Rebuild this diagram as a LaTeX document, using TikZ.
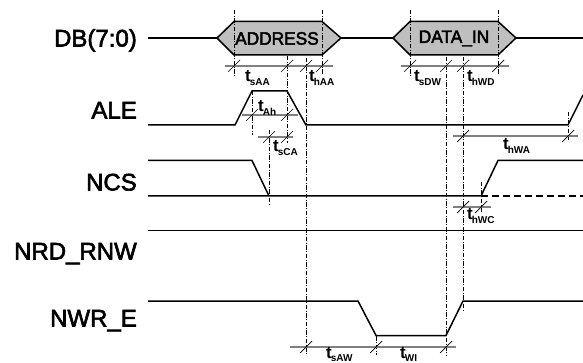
\documentclass[tikz,border=0pt]{standalone}
\usepackage{fontspec}
\setmainfont{Liberation Sans}
\newfontfamily\siglbl[FakeBold=2.5]{Liberation Sans}
\newfontfamily\buslbl[FakeBold=2.5,FakeStretch=0.96]{Liberation Sans}
\newfontfamily\tfont{Liberation Sans Bold}
\newcommand\tsym[1]{{\tfont\fontsize{17}{17}\selectfont t}\kern-1pt\raisebox{-3.2pt}{\tfont\fontsize{10}{10}\selectfont #1}}
\newcommand\tk[2]{\draw[tickmark] (#1-6,#2+6) -- (#1+6,#2-6);}
\tikzset{
  sig/.style={line width=1.5pt, line join=miter},
  guide/.style={line width=0.7pt, dash pattern=on 4.5pt off 1.5pt on 1pt off 1.5pt},
  dim/.style={line width=1.3pt, black!50},
  tickmark/.style={line width=0.7pt},
  bus/.style={sig, fill=black!25},
  siglabel/.style={anchor=base east, inner sep=0pt, font=\siglbl\fontsize{24}{24}\selectfont},
  buslabel/.style={inner sep=0pt, font=\buslbl\fontsize{18}{18}\selectfont},
  tlabel/.style={anchor=base west, inner sep=0pt}
}
\begin{document}
\begin{tikzpicture}[x=1pt,y=-1pt]
\useasboundingbox (0,0) rectangle (583,363);
% signal names
\node[siglabel] (ldb)  at (137,46.5)  {DB(7:0)};
\node[siglabel] (lale) at (137,118.5) {ALE};
\node[siglabel] (lncs) at (137,190.5) {NCS};
\node[siglabel] (lrd)  at (137,259.5) {NRD\_RNW};
\node[siglabel] (lwr)  at (137,326.5) {NWR\_E};
% bus
\draw[sig] (148,38) -- (217,38) (341,38) -- (393,38) (516,38) -- (583,38);
\draw[bus] (217,38) -- (234,21.5) -- (322,21.5) -- (341,38) -- (322,55) -- (234,55) -- cycle;
\draw[bus] (393,38) -- (410,21.5) -- (498,21.5) -- (516,38) -- (498,55) -- (410,55) -- cycle;
% guides
\draw[guide] (234,10) -- (234,78);
\draw[guide] (322,10) -- (322,75);
\draw[guide] (410,10) -- (410,78);
\draw[guide] (498,10) -- (498,75);
\draw[guide] (252,91) -- (252,135);
\draw[guide] (287,56) -- (287,143);
\draw[guide] (306,58) -- (306,355);
\draw[guide] (269,130) -- (269,206);
\draw[guide] (446,57) -- (446,355);
\draw[guide] (463,57) -- (463,312);
\draw[guide] (481,182) -- (481,212);
\draw[guide] (568,112) -- (568,140);
\draw[guide] (376,336) -- (376,355);
\node[buslabel] (baddr) at (277,38.5) {ADDRESS};
\node[buslabel] (bdata) at (454,38.5) {DATA\_IN};
% signals
\draw[sig] (148,125) -- (235,125) -- (252,91) -- (287,91) -- (306,125) -- (568,125) -- (583,95);
\draw[sig] (148,160.5) -- (252,160.5) -- (269,196);
\draw[sig] (148,196) -- (481,196) -- (498,160.5) -- (583,160.5);
\draw[sig, dash pattern=on 7pt off 4pt] (481,196) -- (583,196);
\draw[sig] (148,230.5) -- (583,230.5);
\draw[sig] (148,301) -- (358,301) -- (376,335.5) -- (446,335.5) -- (463,301) -- (583,301);
% dimension lines
\draw[dim] (225,66) -- (333,66);
\draw[dim] (401,66) -- (509,66);
\draw[dim] (242,115) -- (298,115);
\draw[dim] (258,137) -- (293,137);
\draw[dim] (453,136) -- (578,136);
\draw[dim] (453,207) -- (491,207);
\draw[dim] (290,347) -- (456,347);
\foreach \x in {234,287,306,322,410,446,463,498} {\tk{\x}{66}}
\foreach \x in {252,287} {\tk{\x}{115}}
\foreach \x in {269,287} {\tk{\x}{137}}
\foreach \x in {463,568} {\tk{\x}{136}}
\foreach \x in {463,481} {\tk{\x}{207}}
\foreach \x in {306,376,446} {\tk{\x}{347}}
% timing labels
\node[tlabel] (tsaa) at (245,82)  {\tsym{sAA}};
\node[tlabel] (thaa) at (309,82)  {\tsym{hAA}};
\node[tlabel] (tsdw) at (414,82)  {\tsym{sDW}};
\node[tlabel] (thwd) at (467,82)  {\tsym{hWD}};
\node[tlabel] (tah)  at (258,112) {\tsym{Ah}};
\node[tlabel] (tsca) at (273,152) {\tsym{sCA}};
\node[tlabel] (thwa) at (503,150) {\tsym{hWA}};
\node[tlabel] (thwc) at (467,220) {\tsym{hWC}};
\node[tlabel] (tsaw) at (326,358) {\tsym{sAW}};
\node[tlabel] (twi)  at (400,358) {\tsym{WI}};
\end{tikzpicture}
\end{document}
